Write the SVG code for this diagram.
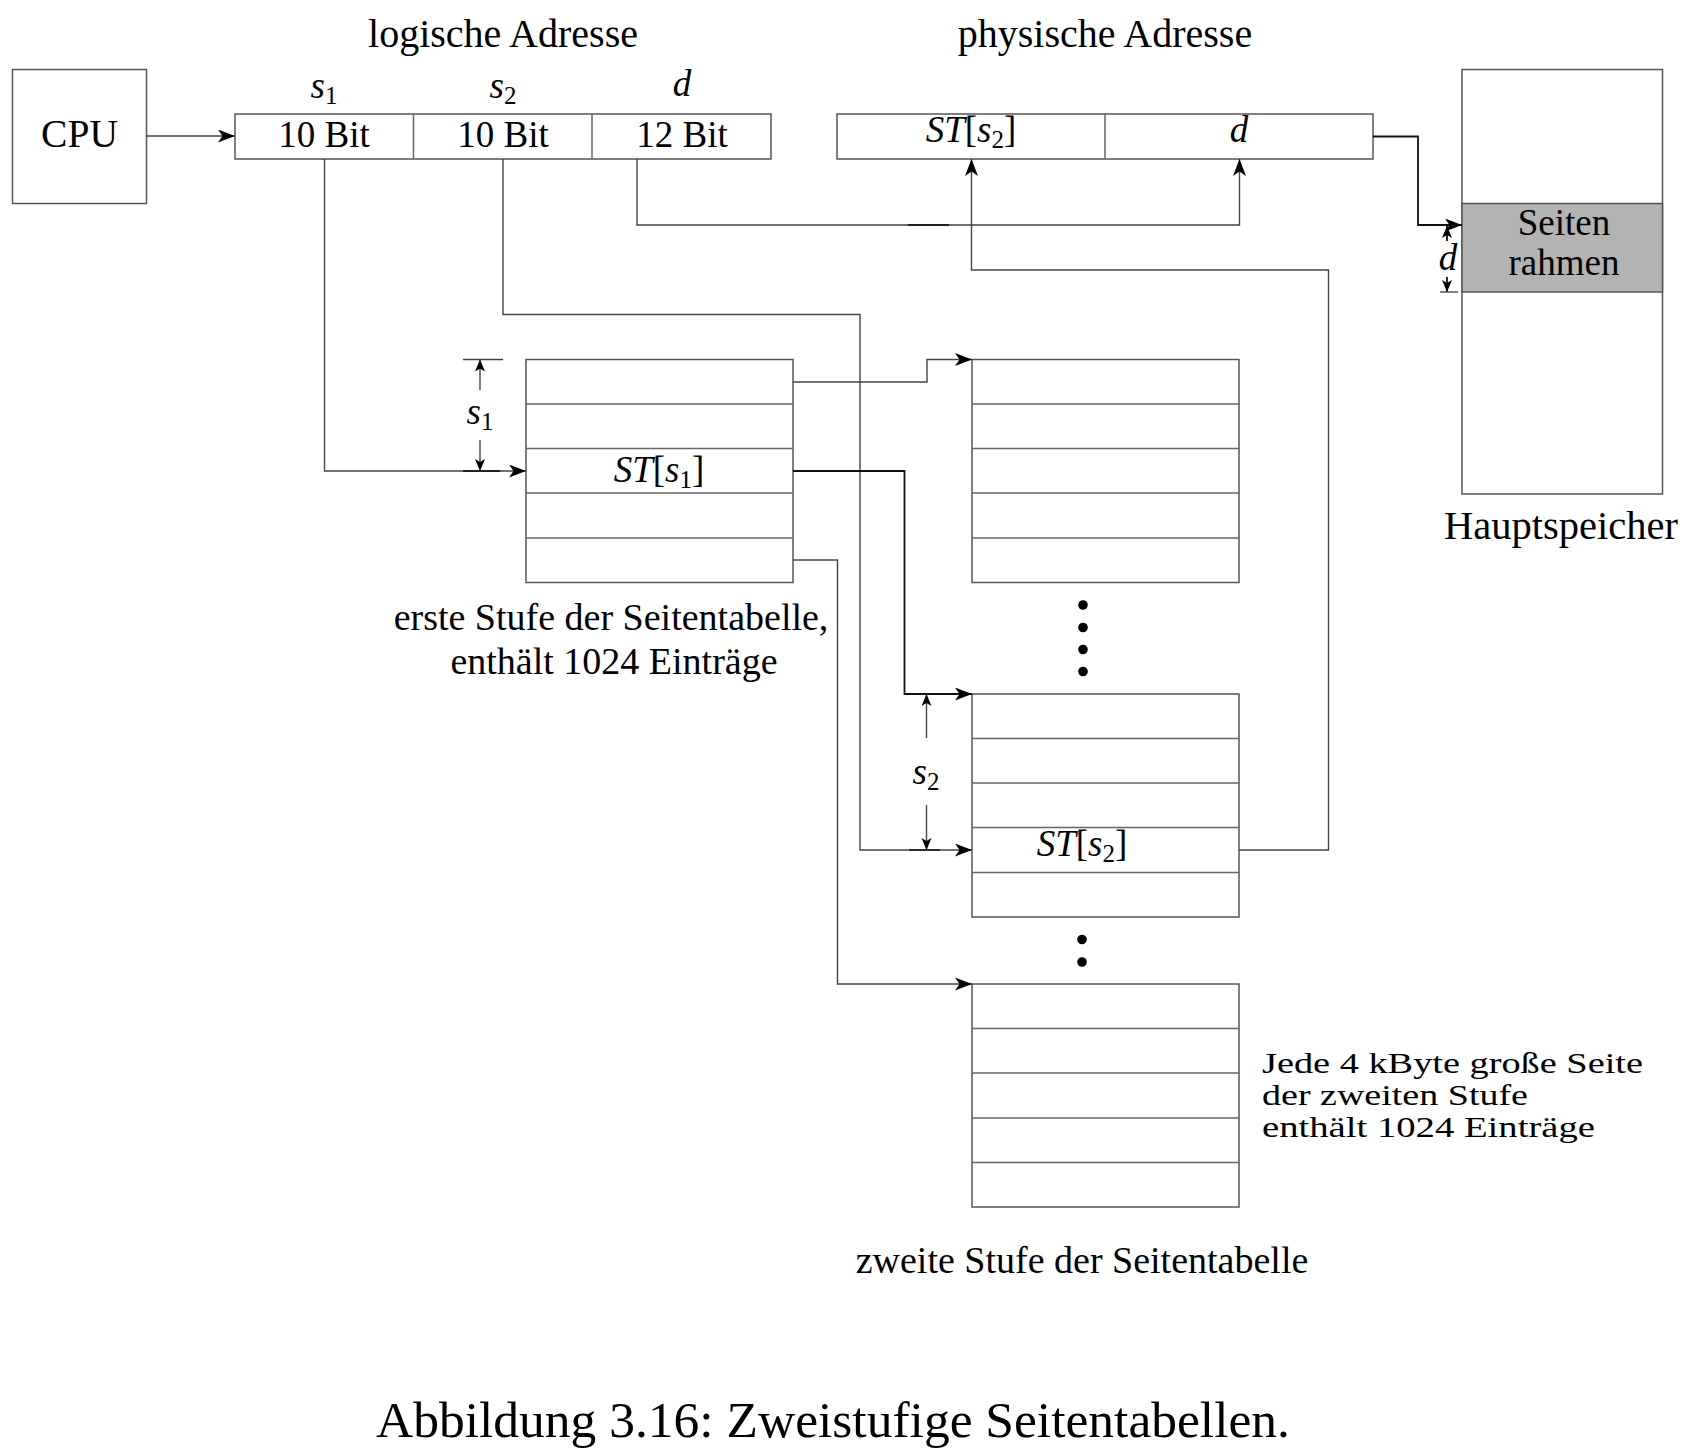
<svg xmlns="http://www.w3.org/2000/svg" width="1700" height="1454" viewBox="0 0 1700 1454">
<style>
text{font-family:"Liberation Serif","Times New Roman",serif;fill:#000}
.t{font-size:38px}
.tt{font-size:40px}
.b{font-size:37px}
.j{font-size:29.5px}
.cap{font-size:51.5px}
.it{font-style:italic}
.sub{font-size:25px;font-style:normal}
.box{fill:#fff;stroke:#555;stroke-width:1.5}
.row{stroke:#666;stroke-width:1.5}
.c{fill:none;stroke:#444;stroke-width:1.4}
.ck{fill:none;stroke:#111;stroke-width:1.8}
</style>
<defs>
<marker id="ah" markerWidth="18" markerHeight="14" refX="17" refY="6.5" orient="auto" markerUnits="userSpaceOnUse"><path d="M0,0 L17,6.5 L0,13 L4.5,6.5 z" fill="#000"/></marker>
<marker id="as" markerWidth="13" markerHeight="11" refX="12" refY="5" orient="auto" markerUnits="userSpaceOnUse"><path d="M0,0 L12,5 L0,10 L3,5 z" fill="#000"/></marker>
</defs>

<g id="cpu">
<rect class="box" x="12.5" y="69.5" width="134" height="134"/>
<text x="79.5" y="147" text-anchor="middle" font-size="39.5">CPU</text>
</g>

<g id="logische-adresse">
<text class="tt" x="503" y="47" text-anchor="middle">logische Adresse</text>
<rect class="box" x="235" y="114" width="536" height="45"/>
<line class="row" x1="413.5" y1="114" x2="413.5" y2="159"/>
<line class="row" x1="592" y1="114" x2="592" y2="159"/>
<text class="b" x="324" y="147" text-anchor="middle">10 Bit</text>
<text class="b" x="503" y="147" text-anchor="middle">10 Bit</text>
<text class="b" x="682" y="147" text-anchor="middle">12 Bit</text>
<text class="b" x="324" y="98" text-anchor="middle"><tspan class="it">s</tspan><tspan class="sub" dy="6">1</tspan></text>
<text class="b" x="503" y="98" text-anchor="middle"><tspan class="it">s</tspan><tspan class="sub" dy="6">2</tspan></text>
<text class="b it" x="682" y="96" text-anchor="middle">d</text>
</g>

<g id="physische-adresse">
<text class="tt" x="1105" y="47" text-anchor="middle">physische Adresse</text>
<rect class="box" x="837" y="114" width="536" height="45"/>
<line class="row" x1="1105" y1="114" x2="1105" y2="159"/>
<text class="b" x="971" y="142" text-anchor="middle"><tspan class="it">ST</tspan>[<tspan class="it">s</tspan><tspan class="sub" dy="6">2</tspan><tspan dy="-6">]</tspan></text>
<text class="b it" x="1239" y="142" text-anchor="middle">d</text>
</g>

<g id="hauptspeicher">
<rect class="box" x="1462" y="69.5" width="200.5" height="424.5"/>
<rect x="1462" y="203.5" width="200.5" height="88.5" fill="#b3b3b3" stroke="#555" stroke-width="1.5"/>
<text class="b" x="1564" y="235" text-anchor="middle">Seiten</text>
<text class="b" x="1564" y="275" text-anchor="middle">rahmen</text>
<text x="1561" y="539" text-anchor="middle" font-size="40.5">Hauptspeicher</text>
</g>

<g id="tabelle-stufe1">
<rect class="box" x="526" y="359.5" width="267" height="223"/>
<line class="row" x1="526" y1="404" x2="793" y2="404"/>
<line class="row" x1="526" y1="448.5" x2="793" y2="448.5"/>
<line class="row" x1="526" y1="493" x2="793" y2="493"/>
<line class="row" x1="526" y1="538" x2="793" y2="538"/>
<text class="b" x="659" y="482" text-anchor="middle"><tspan class="it">ST</tspan>[<tspan class="it">s</tspan><tspan class="sub" dy="6">1</tspan><tspan dy="-6">]</tspan></text>
<text class="t" x="611" y="630" text-anchor="middle">erste Stufe der Seitentabelle,</text>
<text class="t" x="614" y="674" text-anchor="middle">enthält 1024 Einträge</text>
</g>

<g id="tabelle-stufe2-a">
<rect class="box" x="972" y="359.5" width="267" height="223"/>
<line class="row" x1="972" y1="404" x2="1239" y2="404"/>
<line class="row" x1="972" y1="448.5" x2="1239" y2="448.5"/>
<line class="row" x1="972" y1="493" x2="1239" y2="493"/>
<line class="row" x1="972" y1="538" x2="1239" y2="538"/>
</g>

<g id="punkte-1" fill="#000">
<circle cx="1083" cy="605" r="4.8"/>
<circle cx="1083" cy="627.5" r="4.8"/>
<circle cx="1083" cy="649.5" r="4.8"/>
<circle cx="1083" cy="671.5" r="4.8"/>
</g>

<g id="tabelle-stufe2-b">
<rect class="box" x="972" y="694" width="267" height="223"/>
<line class="row" x1="972" y1="738.5" x2="1239" y2="738.5"/>
<line class="row" x1="972" y1="783" x2="1239" y2="783"/>
<line class="row" x1="972" y1="827.5" x2="1239" y2="827.5"/>
<line class="row" x1="972" y1="872.5" x2="1239" y2="872.5"/>
<text class="b" x="1082" y="856" text-anchor="middle"><tspan class="it">ST</tspan>[<tspan class="it">s</tspan><tspan class="sub" dy="6">2</tspan><tspan dy="-6">]</tspan></text>
</g>

<g id="punkte-2" fill="#000">
<circle cx="1082" cy="939.5" r="4.8"/>
<circle cx="1082" cy="962" r="4.8"/>
</g>

<g id="tabelle-stufe2-c">
<rect class="box" x="972" y="984" width="267" height="223"/>
<line class="row" x1="972" y1="1028.5" x2="1239" y2="1028.5"/>
<line class="row" x1="972" y1="1073" x2="1239" y2="1073"/>
<line class="row" x1="972" y1="1118" x2="1239" y2="1118"/>
<line class="row" x1="972" y1="1162.5" x2="1239" y2="1162.5"/>
<text class="j" x="1262" y="1073" textLength="381" lengthAdjust="spacingAndGlyphs">Jede 4 kByte große Seite</text>
<text class="j" x="1262" y="1105" textLength="266" lengthAdjust="spacingAndGlyphs">der zweiten Stufe</text>
<text class="j" x="1262" y="1137" textLength="333" lengthAdjust="spacingAndGlyphs">enthält 1024 Einträge</text>
<text class="t" x="1082" y="1273" text-anchor="middle">zweite Stufe der Seitentabelle</text>
</g>

<g id="connectors">
<path class="c" d="M146,136 H235" marker-end="url(#ah)"/>
<path class="c" d="M324.5,159 V471 H526" marker-end="url(#ah)"/>
<path class="c" d="M503,159 V314.5 H860 V850 H972" marker-end="url(#ah)"/>
<path class="c" d="M637,159 V225 H1239.5 V159" marker-end="url(#ah)"/>
<line x1="908" y1="225" x2="949" y2="225" stroke="#222" stroke-width="2"/>
<path class="c" d="M793,382 H927 V359.5 H972" marker-end="url(#ah)"/>
<path class="ck" d="M793,471 H904.5 V694 H972" marker-end="url(#ah)"/>
<path class="c" d="M793,560 H837.5 V984 H972" marker-end="url(#ah)"/>
<path class="c" d="M1239,850 H1328.5 V270 H971.5 V159" marker-end="url(#ah)"/>
<path class="ck" d="M1373,136.5 H1418 V225 H1462" marker-end="url(#ah)"/>
<!-- s1 dimension -->
<line class="c" x1="463" y1="359.5" x2="503" y2="359.5"/>
<path class="c" d="M480,390 V359.5" marker-end="url(#as)"/>
<path class="c" d="M480,440 V471" marker-end="url(#as)"/>
<line x1="463" y1="471" x2="500" y2="471" stroke="#222" stroke-width="1.8"/>
<text class="b" x="480" y="424" text-anchor="middle"><tspan class="it">s</tspan><tspan class="sub" dy="6">1</tspan></text>
<!-- s2 dimension -->
<path class="c" d="M926.5,738 V694" marker-end="url(#as)"/>
<path class="c" d="M926.5,805 V850" marker-end="url(#as)"/>
<line x1="909" y1="850" x2="940" y2="850" stroke="#222" stroke-width="1.8"/>
<text class="b" x="926" y="784" text-anchor="middle"><tspan class="it">s</tspan><tspan class="sub" dy="6">2</tspan></text>
<!-- d dimension at memory -->
<path class="ck" d="M1447,241 V226" marker-end="url(#as)"/>
<path class="ck" d="M1447,277 V292" marker-end="url(#as)"/>
<line x1="1440" y1="292" x2="1458" y2="292" stroke="#555" stroke-width="1.5"/>
<text class="b it" x="1448" y="270" text-anchor="middle">d</text>
</g>

<text class="cap" x="833" y="1437" text-anchor="middle">Abbildung 3.16: Zweistufige Seitentabellen.</text>
</svg>
